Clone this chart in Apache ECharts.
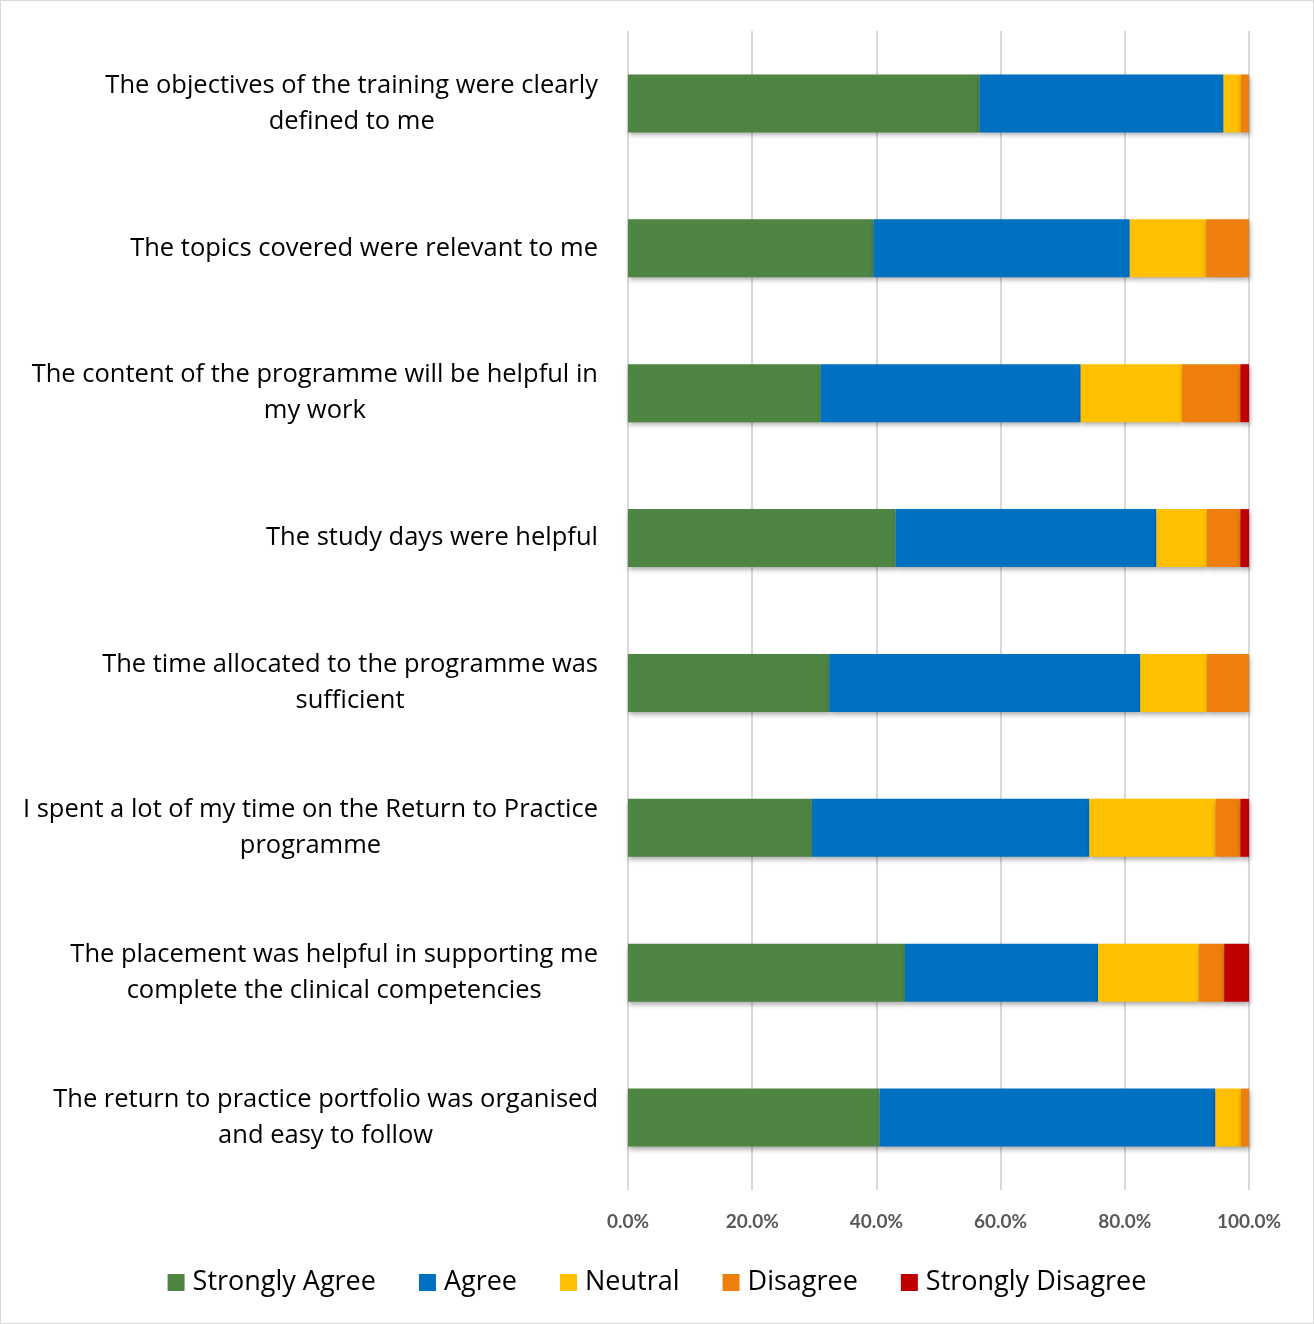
<!DOCTYPE html>
<html>
  <head>
    <meta charset="UTF-8">
    <title>Return to Practice evaluation</title>
    <script src="https://cdn.jsdelivr.net/npm/echarts@6/dist/echarts.min.js"></script>
    <style>
      html, body { margin: 0; padding: 0; background: #fff; }
      #main {
        width: 1312px;
        height: 1322px;
        border: 1px solid #d9d9d9;
      }
    </style>
  </head>
  <body>
    <div id="main"></div>
  <script>
// statements, top to bottom
var questions = [
  'The objectives of the training were clearly\ndefined to me',
  'The topics covered were relevant to me',
  'The content of the programme will be helpful in\nmy work',
  'The study days were helpful',
  'The time allocated to the programme was\nsufficient',
  'I spent a lot of my time on the Return to Practice\nprogramme',
  'The placement was helpful in supporting me\ncomplete the clinical competencies',
  'The return to practice portfolio was organised\nand easy to follow'
];

var stronglyAgree    = [56.6, 39.5, 31.0, 43.1, 32.4, 29.6, 44.6, 40.5];
var agree            = [39.3, 41.3, 41.9, 42.0, 50.1, 44.7, 31.1, 54.1];
var neutral          = [2.8, 12.3, 16.3, 8.1, 10.7, 20.3, 16.2, 4.1];
var disagree         = [1.3, 6.9, 9.4, 5.4, 6.8, 4.0, 4.1, 1.3];
var stronglyDisagree = [0, 0, 1.4, 1.4, 0, 1.4, 4.0, 0];

var xTicks = [0, 20, 40, 60, 80, 100];

var myChart = echarts.init(document.getElementById('main'));

function seg(name, data, color) {
  return {
    name: name,
    type: 'bar',
    stack: 'total',
    data: data,
    barCategoryGap: '60%',
    itemStyle: {
      color: color,
      shadowColor: 'rgba(0,0,0,0.35)',
      shadowBlur: 5,
      shadowOffsetX: 1,
      shadowOffsetY: 3
    }
  };
}

var option = {
  backgroundColor: '#ffffff',
  animation: false,
  textStyle: { fontFamily: '"Open Sans", "Noto Sans", sans-serif' },
  grid: {
    left: 627,
    right: 64,
    top: 30,
    bottom: 133
  },
  legend: {
    bottom: 22,
    left: 'center',
    itemWidth: 17,
    itemHeight: 17,
    itemGap: 43,
    icon: 'rect',
    textStyle: { fontSize: 27, color: '#000', fontFamily: '"Open Sans", sans-serif', padding: [0, 0, 0, 3] },
    data: ['Strongly Agree', 'Agree', 'Neutral', 'Disagree', 'Strongly Disagree']
  },
  xAxis: {
    type: 'value',
    min: xTicks[0],
    max: xTicks[xTicks.length - 1],
    interval: 20,
    axisLine: { show: false },
    axisTick: { show: false },
    splitLine: { lineStyle: { color: '#d9d9d9', width: 2 } },
    axisLabel: {
      margin: 22,
      fontSize: 19,
      fontWeight: 'bold',
      color: '#595959',
      fontFamily: 'Lato, sans-serif',
      formatter: function (v) { return v.toFixed(1) + '%'; }
    }
  },
  yAxis: {
    type: 'category',
    inverse: true,
    data: questions,
    axisLine: { show: false },
    axisTick: { show: false },
    axisLabel: {
      margin: 30,
      fontSize: 25.5,
      color: '#000',
      lineHeight: 36,
      formatter: function (v) {
        return v.split('\n').map(function (l) { return '{c|' + l + '}'; }).join('\n');
      },
      rich: {
        c: { align: 'center', fontSize: 25.5, lineHeight: 36, color: '#000', fontFamily: '"Open Sans", sans-serif' }
      }
    }
  },
  series: [
    seg('Strongly Agree', stronglyAgree, '#4e8542'),
    seg('Agree', agree, '#0070c0'),
    seg('Neutral', neutral, '#ffc000'),
    seg('Disagree', disagree, '#ef7f0d'),
    seg('Strongly Disagree', stronglyDisagree, '#c00000')
  ]
};

myChart.setOption(option);
  </script>
  </body>
</html>
